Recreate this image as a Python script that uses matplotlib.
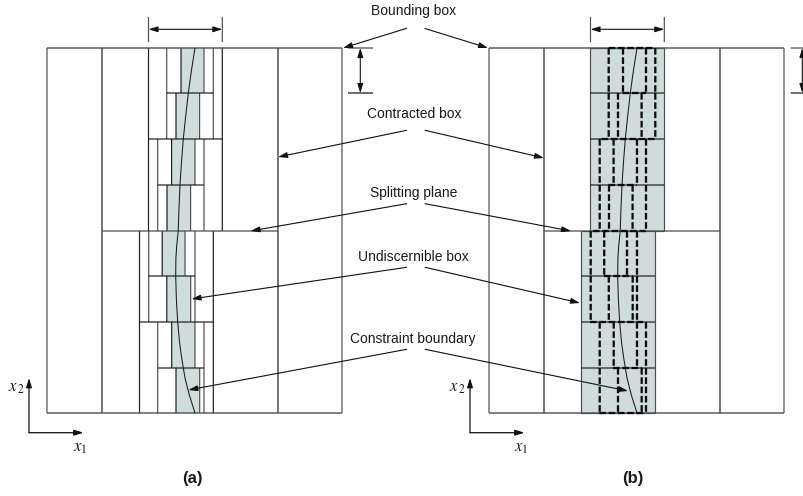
import matplotlib
matplotlib.use("Agg")
import matplotlib.pyplot as plt
from matplotlib.patches import Rectangle

plt.rcParams['font.family'] = ['Liberation Sans', 'DejaVu Sans']
plt.rcParams['mathtext.fontset'] = 'stix'

SHADE = '#d0dcdc'
DARK = '#1a1a1a'
GREY = '#4d4d4d'

# Row boundaries of the eight bottom-level boxes (y, image pixels)
row_edges = [48, 93, 139, 185, 231, 276, 322, 368, 413]
# Vertical cuts per row, panel (a): bound, contracted, undiscernible L/R, contracted, bound
rows_a = [
    [148.5, 166.7, 181, 204, 213.3, 222.3],
    [148.5, 166.7, 176, 199.6, 213.3, 222.3],
    [148.5, 157.7, 171.6, 195, 204, 222.3],
    [148.5, 157.7, 167, 190.6, 204, 222.3],
    [139.5, 148.7, 162.2, 185, 195, 213.3],
    [139.5, 148.7, 166.8, 190.7, 195, 213.3],
    [139.5, 157.7, 171.7, 195, 204, 213.3],
    [139.5, 157.7, 176, 199.7, 204, 213.3],
]
# Inner horizontal segments between rows, panel (a)
inner_y = [93, 139, 185, 276, 322, 368]
inner_x0 = [166.7, 148.5, 157.7, 148.7, 139.5, 157.7]
inner_x1 = [213.3, 222.3, 204, 195, 213.3, 204]
# Thick dashed horizontal segments, panel (b)
dash_y = [48, 93, 139, 185, 231, 276, 322, 368, 413]
dash_x0 = [608.7, 622.7, 601.5, 608.5, 593, 604, 590, 613, 599.3]
dash_x1 = [655, 646, 655, 637, 645.7, 632.7, 645.7, 642, 645.7]
# Constraint boundary, panel (a)
curve_x = [195, 191.5, 188.3, 185.7, 183.3, 181.5, 180, 179, 178.2, 176.8, 175.9, 175.7, 176.4, 177.7, 179.5, 181.7, 185, 189.3, 195]
curve_y = [48, 70, 93, 116, 139, 162, 185, 208, 231, 245, 258, 276, 300, 322, 342, 358, 378, 395, 413]

# Boxes
outer_x = [47, 342]
contracted_x = [102, 278]
box_top, box_split, box_bottom = 48, 231, 413
panel_b_offset = 442
shade_b_top = [590, 664.3]
shade_b_bottom = [581, 655]

# Labels with their arrows
labels = ['Bounding box', 'Contracted box', 'Splitting plane', 'Undiscernible box', 'Constraint boundary']
label_x = [414, 414, 413.7, 413.7, 412.7]
label_y = [11.5, 113.5, 193, 257, 338.7]
arrow_left_start_y = [28.3, 130.3, 203.7, 267.3, 349.3]
arrow_right_start_y = [28.5, 130.3, 203.7, 267.3, 349.3]
arrow_left_tip = [(343, 48), (278, 157), (250.5, 231), (191.5, 299), (188.3, 390)]
arrow_right_tip = [(488, 48), (544, 158), (571, 231), (580, 303), (628, 391)]
arrow_left_x = 406.7
arrow_right_x = 425

fig = plt.figure(figsize=(8.04, 4.96), dpi=100)
ax = fig.add_axes([0, 0, 1, 1])
ax.set_xlim(0, 804)
ax.set_ylim(496, 0)
ax.axis('off')


def line(xs, ys, lw=0.8, c=DARK, **kw):
    ax.plot(xs, ys, lw=lw, color=c, solid_capstyle='butt', snap=False, **kw)


def arrow(start, tip, style='-|>', lw=0.8):
    ax.annotate('', xy=tip, xytext=start,
                arrowprops=dict(arrowstyle=f'{style},head_length=0.55,head_width=0.17',
                                mutation_scale=10, lw=lw, color='#111111',
                                shrinkA=0, shrinkB=0, fc='#111111'))


def frame(off):
    for x in outer_x + contracted_x:
        line([x + off] * 2, [box_top, box_bottom], c=GREY if x in outer_x else DARK, lw=0.85)
    line([outer_x[0] + off, outer_x[1] + off], [box_top, box_top], lw=1.0, c=GREY)
    line([outer_x[0] + off, outer_x[1] + off], [box_bottom, box_bottom], lw=1.0, c=GREY)
    line([contracted_x[0] + off, contracted_x[1] + off], [box_split, box_split], lw=0.9, c=GREY)


# Panel (a)
for i, cuts in enumerate(rows_a):
    y0, y1 = row_edges[i], row_edges[i + 1]
    ax.add_patch(Rectangle((cuts[2], y0), cuts[3] - cuts[2], y1 - y0, fc=SHADE, ec='none'))
    for j, x in enumerate(cuts):
        line([x, x], [y0, y1], c=DARK if j in (0, 2, 5) else GREY, lw=0.85)
for y, x0, x1 in zip(inner_y, inner_x0, inner_x1):
    line([x0, x1], [y, y], lw=0.85)
frame(0)
line(curve_x, curve_y, lw=0.75)

# Panel (b)
ax.add_patch(Rectangle((shade_b_top[0], box_top), shade_b_top[1] - shade_b_top[0],
                       box_split - box_top, fc=SHADE, ec=GREY, lw=0.85))
ax.add_patch(Rectangle((shade_b_bottom[0], box_split), shade_b_bottom[1] - shade_b_bottom[0],
                       box_bottom - box_split, fc=SHADE, ec=GREY, lw=0.85))
for i, y in enumerate(row_edges[1:-1]):
    s = shade_b_top if y <= box_split else shade_b_bottom
    if y != box_split:
        line(s, [y, y], lw=0.85)
frame(panel_b_offset)
line([x + panel_b_offset for x in curve_x], curve_y, lw=0.75)
dash_style = dict(lw=1.65, color='#0d0d0d', dashes=(2.9, 1.15), dash_capstyle='butt', snap=False)
for i, cuts in enumerate(rows_a):
    y0, y1 = row_edges[i], row_edges[i + 1]
    for x in cuts[1:5]:
        ax.plot([x + panel_b_offset] * 2, [y0, y1], **dash_style)
for y, x0, x1 in zip(dash_y, dash_x0, dash_x1):
    ax.plot([x0, x1], [y, y], **dash_style)

# Dimension marks
for off in (0, panel_b_offset):
    x0, x1 = rows_a[0][0] + off, rows_a[0][5] + off
    line([x0, x0], [17, 42], lw=0.85, c=GREY)
    line([x1, x1], [17, 42], lw=0.85, c=GREY)
    arrow((x0, 29.3), (x1, 29.3), style='<|-|>')
for xv, t0, t1 in ((360.3, 348, 373), (802.3, 790.7, 804)):
    line([t0, t1], [48, 48], lw=0.9, c=GREY)
    line([t0, t1], [93, 93], lw=0.9, c=DARK)
    arrow((xv, 48), (xv, 93), style='<|-|>')

# Labels and arrows
for i, name in enumerate(labels):
    ax.text(label_x[i], label_y[i], name, ha='center', va='center', fontsize=10, color='#1a1a1a')
    arrow((arrow_left_x, arrow_left_start_y[i]), arrow_left_tip[i])
    arrow((arrow_right_x, arrow_right_start_y[i]), arrow_right_tip[i])

# Coordinate axes and captions
for ox, cap, cx in ((29, '(a)', 192), (470, '(b)', 633)):
    arrow((ox, 432.7), (ox, 378), lw=0.9)
    arrow((ox, 432.7), (ox + 54.5, 432.7), lw=0.9)
    ax.text(ox - 4.5, 388, r'$x_{\,2}$', ha='right', va='center', fontsize=12, color='#1a1a1a')
    ax.text(ox + 44, 449, r'$x_{1}$', ha='left', va='center', fontsize=12, color='#1a1a1a')
    ax.text(cx, 479, cap, ha='center', va='center', fontsize=12, fontweight='bold', color='#1a1a1a')

fig.savefig('out.png', dpi=100)
